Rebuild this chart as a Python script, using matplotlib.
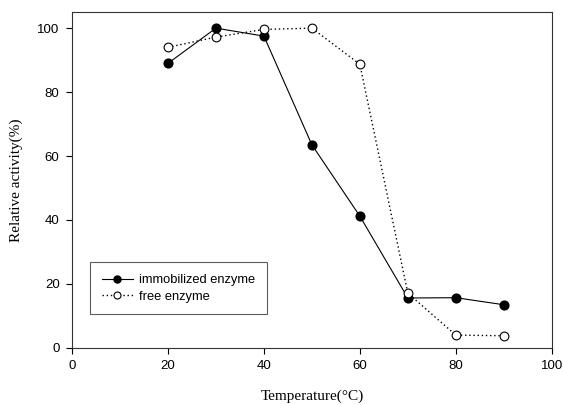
import matplotlib
matplotlib.use("Agg")
import matplotlib.pyplot as plt

temp = [20, 30, 40, 50, 60, 70, 80, 90]
immobilized = [89.0, 100.0, 97.5, 63.5, 41.2, 15.6, 15.7, 13.5]
free = [94.0, 97.2, 99.6, 100.0, 88.7, 17.1, 4.0, 3.8]

fig = plt.figure(figsize=(5.63, 4.05), dpi=100)
ax = fig.add_axes([0.128, 0.141, 0.852, 0.829])

ax.plot(temp, immobilized, color="black", lw=0.8, marker="o", ms=6.3,
        mfc="black", mec="black", label="immobilized enzyme")
ax.plot(temp, free, color="black", lw=1.0, ls=(0, (1, 2)), marker="o", ms=6.3,
        mfc="white", mec="black", mew=0.8, label="free enzyme")

ax.set_xlim(0, 100)
ax.set_ylim(0, 105)
ax.set_xticks([0, 20, 40, 60, 80, 100])
ax.set_yticks([0, 20, 40, 60, 80, 100])
ax.tick_params(direction="out", length=4, width=0.8, labelsize=9.5, pad=5)
for lab in ax.get_xticklabels() + ax.get_yticklabels():
    lab.set_family("Liberation Sans")
for s in ax.spines.values():
    s.set_linewidth(0.8)
    s.set_color("#333333")

ax.set_xlabel("Temperature(°C)", family="Liberation Serif", fontsize=11, labelpad=12)
ax.set_ylabel("Relative activity(%)", family="Liberation Serif", fontsize=11, labelpad=10)

leg = ax.legend(loc="lower left", bbox_to_anchor=(0.0375, 0.1), fancybox=False,
                edgecolor="#333333", prop={"family": "Liberation Sans", "size": 9.3},
                handlelength=2.4, borderpad=0.9, labelspacing=0.35, handletextpad=0.5,
                borderaxespad=0, markerscale=0.8)
leg.get_frame().set_linewidth(0.8)

fig.savefig("out.png", dpi=100)
